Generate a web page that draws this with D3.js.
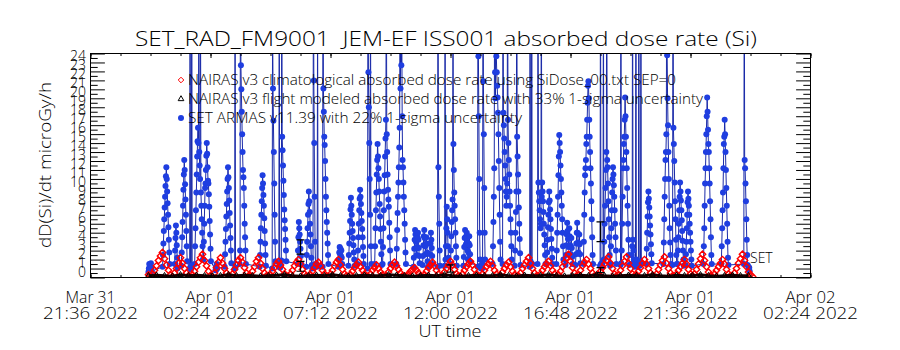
<!DOCTYPE html>
<html>
<head>
<meta charset="utf-8">
<script src="https://cdn.jsdelivr.net/npm/d3@7"></script>
<style>
  body { margin: 0; background: #fff; }
  text { font-family: "Open Sans", "DejaVu Sans", sans-serif; font-weight: 300; fill: #000; }
</style>
</head>
<body>
<svg id="chart" width="900" height="350"></svg>
<script>
// ---------------- data ----------------
// minutes are counted from 2022-04-01 00:00 UT
const dayStart = Date.UTC(2022, 3, 1, 0, 0);

const tickTimes = ['2022-03-31T21:36:00Z', '2022-04-01T02:24:00Z', '2022-04-01T07:12:00Z',
  '2022-04-01T12:00:00Z', '2022-04-01T16:48:00Z', '2022-04-01T21:36:00Z', '2022-04-02T02:24:00Z'];
const tickDays = ['Mar 31', 'Apr 01', 'Apr 01', 'Apr 01', 'Apr 01', 'Apr 01', 'Apr 02'];
const tickClock = ['21:36 2022', '02:24 2022', '07:12 2022', '12:00 2022', '16:48 2022', '21:36 2022', '02:24 2022'];
const yTicks = [0, 1, 2, 3, 4, 5, 6, 7, 8, 9, 10, 11, 12, 13, 14, 15, 16, 17, 18, 19, 20, 21, 22, 23, 24];

// NAIRAS climatological dose rate, one value every 4.8 min from -4.8 min
const climStart = -4.8, climStep = 4.8;
const nairasClim = [
  0.3,0.2,0.4,0.8,1.3,1.9,2.4,2.8,
  2.1,1.4,0.8,0.3,0.1,0.5,1.0,1.6,2.2,
  1.6,1.0,0.5,0.2,0.1,0.3,0.7,1.2,1.7,2.2,2.6,
  1.9,1.3,0.7,0.2,0.1,0.5,1.1,1.7,2.2,
  1.6,1.0,0.5,0.2,0.1,0.4,0.9,1.4,1.9,2.2,
  1.7,1.1,0.5,0.2,0.2,0.7,1.2,1.8,2.2,
  1.6,1.0,0.5,0.2,0.1,0.3,0.7,1.1,1.5,1.8,
  1.4,0.9,0.4,0.2,0.1,0.4,0.8,1.3,1.7,2.0,
  1.5,0.9,0.4,0.2,0.1,0.3,0.7,1.1,1.5,1.7,
  1.3,0.8,0.4,0.2,0.1,0.4,0.8,1.3,1.7,2.0,
  1.4,0.9,0.4,0.2,0.1,0.3,0.7,1.1,1.4,1.7,
  1.2,0.8,0.4,0.2,0.1,0.4,0.8,1.1,1.4,
  1.0,0.6,0.3,0.1,0.2,0.6,1.0,1.4,1.7,
  1.3,0.9,0.5,0.2,0.1,0.2,0.4,0.7,0.9,1.1,
  0.8,0.5,0.2,0.1,0.3,0.7,1.1,1.4,1.7,
  1.3,0.8,0.4,0.1,0.2,0.6,1.0,1.4,1.8,
  1.4,0.9,0.4,0.2,0.1,0.4,0.8,1.2,1.5,1.8,
  1.4,0.9,0.4,0.2,0.1,0.4,0.8,1.2,1.5,1.8,
  1.3,0.8,0.4,0.1,0.2,0.6,1.0,1.4,1.7,
  1.2,0.7,0.3,0.1,0.2,0.5,1.0,1.4,1.8,2.2,
  1.6,1.0,0.5,0.2,0.1,0.4,0.8,1.2,1.5,1.8,
  1.3,0.8,0.4,0.1,0.3,0.7,1.2,1.7,2.2,2.6,
  1.8,1.1,0.5,0.2,0.3,0.8,1.3,1.7,2.0,
  1.5,1.0,0.5,0.2,0.1,0.3,0.7,1.1,1.5,1.9,2.3,
  1.6,1.0,0.4,0.2,0.3,0.8,1.3,1.8,2.3,
  1.6,1.0,0.4,0.2,0.3,0.7,1.1,1.6,2.0,
  1.5,1.0,0.5,0.2,0.1,0.4,0.9,1.4,1.9,2.3,
  1.6,1.0,0.5,0.2,0.1,0.4,0.8,1.2,1.6,2.0,
  1.5,0.9,0.4,0.2,0.4,0.9,1.5,2.1,2.6,
  1.9,1.2,0.6,0.2,0.1,0.4,0.8,1.2,1.6,2.0,
  1.5,0.9,0.4,0.2,0.1,0.5,1.0,1.6,2.1,2.6,
  1.9,1.2,0.6,0.3,0.1
];

// NAIRAS flight modeled dose rate, one value every 19.2 min from -4.8 min
const flightStart = -4.8, flightStep = 19.2;
const nairasFlight = [
  0.2,0.25,0.2,0.15,0.3,0.2,0.25,0.2,0.15,0.2,0.3,0.2,0.25,0.2,0.15,0.2,0.25,0.3,0.2,
  0.15,0.2,0.25,0.2,0.3,0.2,0.15,0.2,0.25,0.2,0.2,0.3,0.25,0.2,0.15,0.2,0.25,0.2,0.3,
  0.2,0.15,0.2,0.25,0.2,0.2,0.3,0.2,0.15,0.25,0.2,0.2,0.3,0.2,0.15,0.2,0.25,0.2,0.3,
  0.2,0.15,0.2,0.25,0.2,0.2,0.3,0.2,0.15,0.25,0.2,0.2,0.3,0.2,0.15,0.2,0.25,0.2,0.2
];
// flight modeled 33% uncertainty bars
const flightErrMin = [360, 360, 720, 1080, 1080];
const flightErrLo = [2.6, 0.7, 0.6, 4.0, 0.55];
const flightErrHi = [4.2, 1.8, 1.4, 6.2, 1.1];

// SET ARMAS passes: [start minute, values at 1 min cadence]
const armasPasses = [
  [-5, [0.6,1.0,1.5,0.9,1.3,0.8,1.6,1.1,0.7]],
  [29, [1.2,2.5,3.8,5.2,6.5,7.8,9.0,10.2,11.3,12.3,11.0,9.6,8.3,7.0,5.6,4.2,2.8,1.5]],
  [58, [1.5,3.0,4.4,5.8,5.0,3.6,2.2,1.0]],
  [74, [1.3,2.8,4.5,6.2,8.0,9.8,11.5,13.1,12.0,10.4,8.7,7.0,5.2,3.5,1.8]],
  [94, [1.0,35,1.2,0.9,1.1,38,1.4]],
  [106, [1.5,3.5,5.5,7.5,9.5,11.5,13.5,15.2,16.7,15.0,30,14.0,12.5,11.0,33,9.5,8.0,6.5,5.0,3.5,2.0]],
  [127, [2.0,4.0,6.0,8.0,10.0,10.5,12.0,13.6,15.0,13.8,12.3,10.8,10.5,9.3,7.9,6.3,4.8,3.2,1.8]],
  [156, [0.8,1.2,0.9,1.5,1.0]],
  [178, [1.2,2.6,4.0,5.4,6.8,8.2,9.6,11.0,12.3,11.2,10.0,8.6,7.2,5.8,4.4,3.0,1.6]],
  [202, [1.0,33,1.1]],
  [214, [1.5,3.0,45,23.7,21.0,18.5,16.0,14.0,12.0,11.2,10.0,8.0,6.0,4.5,3.0,1.5]],
  [262, [1.2,2.5,4.0,5.5,7.0,8.5,10.0,11.4,10.5,9.2,8.0,6.6,5.2,3.8,2.5,1.3]],
  [292, [1.0,30,21.1,17.5,14.0,10.5,7.0,4.0,1.8]],
  [308, [1.2,34,1.4,1.1,1.6,1.3,1.9,36,15.7,14.2,12.5,10.8,9.2,7.6,6.4,5.4,4.2,3.0,1.8]],
  [353, [1.5,3.0,4.5,6.2,5.5,4.8,4.0,3.2,2.4,1.5]],
  [374, [1.2,2.5,4.0,5.5,7.0,8.2,9.6,8.5,7.3,6.0,4.8,3.5,2.2,1.4,1.0,1.3,1.1,40,22.0,15.0,9.0,4.0,1.5]],
  [400, [1.2,32,1.3]],
  [413, [1.2,38,21.1,18.5,15.7,14.8,13.0,11.0,9.0,7.5,6.2,5.0,3.8,2.5,1.5]],
  [451, [1.2,2.0,2.8,3.4,2.6,3.2,2.4,3.0,2.2,1.5]],
  [475, [1.3,2.5,3.8,5.0,6.3,7.6,8.9,8.0,7.0,6.0,5.2,4.4,3.6,2.8,2.0,1.3]],
  [497, [1.5,3.0,4.5,6.0,7.5,8.8,9.8,9.0,8.2,7.2,6.3,5.4,4.5,3.4,2.4,1.5]],
  [521, [1.0,40,22.9,19.0,15.0,11.0,7.0,38,3.5,1.5]],
  [538, [1.5,3.5,5.5,7.5,9.5,11.5,13.1,14.9,13.5,12.2,11.0,9.6,8.2,6.8,5.4,4.0,2.6,1.4]],
  [557, [1.5,3.4,5.5,7.5,9.6,11.4,13.5,15.5,17.6,40,16.0,14.0,11.5,9.8,8.7,7.9,6.1,4.5,3.0,1.5]],
  [590, [1.5,3.2,5.3,7.2,9.0,10.6,12.3,14.5,16.7,38,21.1,40,23.7,30,18.0,13.1,12.3,10.6,9.0,7.5,6.0,4.2,2.8,1.5]],
  [631, [1.2,2.2,3.2,4.2,5.3,4.8,4.0,3.2,2.5,3.4,4.5,5.0,4.2,3.3,2.4,1.6]],
  [653, [1.4,2.4,3.6,4.6,5.3,4.4,3.5,2.6,3.6,4.5,3.8,2.8,1.8,1.2]],
  [670, [1.5,2.6,3.8,5.0,4.2,3.3,2.4,1.5]],
  [689, [1.2,40,12.3,9.0,6.0,3.0,1.3]],
  [706, [1.3,36,2.0,3.5,5.5,7.9,6.5,5.0,3.5,2.2]],
  [720, [1.5,3.0,4.6,6.2,7.5,8.7,30,14.9,12.0,9.5,8.0,6.5,5.0,3.5,2.2,1.3]],
  [751, [1.3,2.3,3.4,4.4,5.3,4.5,3.7,4.6,5.0,4.0,3.0,2.0,2.8,3.8,4.6,3.6,2.6,1.7]],
  [785, [1.2,40,24.7,18.0,11.0,5.0,2.0,1.3,1.0,1.4,1.2,1.0,1.5,38,21.9,16.0,10.0,5.0,2.0]],
  [821, [1.5,3.5,6.2,9.0,12.2,40,22.9,20.0,40,24.7,22.9,21.4,20.1,18.4,16.0,13.0,10.0,7.0,4.0,2.0]],
  [845, [1.5,40,18.4,17.0,15.5,14.0,12.5,11.0,9.6,8.0,9.0,10.5,40,17.6,15.0,13.1,11.5,9.6,8.0,6.5,5.0,3.5,2.0]],
  [874, [1.3,3.0,5.0,7.3,9.6,40,15.7,13.5,11.5,9.6,7.8,6.0,4.3,2.7,1.4]],
  [910, [1.2,40,1.8,1.3,1.6,36,1.5]],
  [929, [1.5,38,10.6,9.5,8.5,7.5,6.5,5.5,6.0,40,9.0,10.6,9.6,8.5,7.3,6.0,4.8,3.6,2.5,1.5]],
  [951, [1.5,2.8,4.2,5.6,7.0,8.4,9.6,8.6,7.6,6.5,5.4,4.3,3.2,2.2,1.5]],
  [974, [1.5,3.0,5.0,7.0,9.0,11.4,13.5,15.9,15.0,14.0,12.5,11.0,9.5,8.0,6.5,5.0,3.5,2.0]],
  [996, [1.4,2.5,3.6,4.8,6.1,5.2,4.3,3.4,4.5,5.5,4.6,3.6,2.6,3.5,4.4,3.3,2.3,1.5]],
  [1020, [1.4,2.6,3.8,5.0,6.1,5.0,3.9,2.8,3.8,4.8,3.7,2.6,1.6]],
  [1039, [1.5,4.0,7.0,9.5,11.4,12.2,13.1,14.9,15.7,17.6,19.5,21.4,21.9,20.0,17.6,15.7,14.0,12.2,10.5,8.5,6.5,4.5,2.5,1.5]],
  [1079, [1.3,40,1.5,1.2,1.6,1.4,1.2,1.8,38,2.0,4.0,6.0,8.0,10.0,12.0,14.0,40,13.1,12.3,10.5,8.5,6.5,4.5,2.5,1.3]],
  [1104, [1.5,3.5,5.5,7.5,9.5,11.0,12.3,11.5,10.3,9.0,7.5,6.0,4.5,3.0,1.5]],
  [1128, [1.4,40,1.6,3.0,6.0,9.0,12.2,13.1,14.9,15.7,17.6,20.1,18.0,15.7,14.0,12.2,10.0,8.0,6.0,4.2,2.5,1.4]],
  [1154, [1.5,2.5,3.5,40,4.2,3.0,2.0,1.5,1.2,1.6,1.4,38,2.0,1.4,1.8,1.2,1.5,1.3,40,1.6,1.3,1.8,1.5,36,1.6]],
  [1190, [1.5,3.2,5.0,6.8,8.4,9.6,8.8,7.8,6.8,5.8,4.8,3.7,2.6,1.6]],
  [1231, [1.5,3.9,6.5,9.0,11.0,13.1,14.0,16.0,40,24.8,20.0,17.0,14.0,11.0,8.0,5.5,3.9,2.5,1.5]],
  [1253, [1.4,40,16.7,14.9,13.0,10.6,8.5,6.5,4.2,2.5,1.5]],
  [1265, [1.5,3.0,4.5,6.0,7.5,9.0,10.6,9.6,8.6,7.5,6.4,5.2,4.1,3.0,2.0,1.3]],
  [1284, [1.4,2.6,4.0,5.5,7.0,8.4,9.6,8.8,8.0,7.0,6.0,5.0,4.0,3.0,2.0,1.3]],
  [1327, [1.5,3.5,5.5,8.0,10.5,12.2,14.0,16.0,18.0,20.1,18.5,16.5,14.9,14.0,12.2,10.5,8.5,6.5,4.5,2.5,1.5]],
  [1370, [1.5,3.5,5.5,7.5,9.5,12.2,14.9,15.7,17.6,16.0,14.0,12.0,10.0,8.0,6.0,4.0,2.2,1.4]],
  [1424, [1.5,40,13.1,12.2,10.5,8.5,6.5,4.2,2.5,1.4]],
  [1435, [1.2,0.8,1.1,0.7]]
];

// ---------------- layout ----------------
const width = 900;
const height = 350;
const plot = { left: 90.5, right: 810.5, top: 53.5, bottom: 277.5 };

const svg = d3.select('svg#chart').attr('width', width).attr('height', height);

const atMin = m => new Date(dayStart + m * 60000);
const xScale = d3.scaleUtc()
  .domain([new Date(tickTimes[0]), new Date(tickTimes[tickTimes.length - 1])])
  .range([plot.left, plot.right]);
const yScale = d3.scaleLinear().domain([0, 25]).range([plot.bottom, plot.top]);

// flatten data
const armas = [];
armasPasses.forEach(([t0, vals]) => vals.forEach((v, i) => armas.push({ t: t0 + i, v: v })));
const clim = nairasClim.map((v, i) => ({ t: climStart + i * climStep, v: v }));
const flight = nairasFlight.map((v, i) => ({ t: flightStart + i * flightStep, v: v }));

svg.append('clipPath').attr('id', 'plot-clip').append('rect')
  .attr('x', plot.left).attr('y', plot.top)
  .attr('width', plot.right - plot.left).attr('height', plot.bottom - plot.top);

const dataG = svg.append('g').attr('clip-path', 'url(#plot-clip)');

// ARMAS line + dots
const line = d3.line().x(d => xScale(atMin(d.t))).y(d => yScale(d.v));
dataG.append('path').datum(armas)
  .attr('d', line).attr('fill', 'none').attr('stroke', '#1a2aa8').attr('stroke-width', 1);
dataG.selectAll('circle.armas').data(armas.filter(d => d.v < 26)).enter().append('circle')
  .attr('class', 'armas')
  .attr('cx', d => xScale(atMin(d.t))).attr('cy', d => yScale(d.v))
  .attr('r', 3).attr('fill', '#1f3ee0');

// climatological: open red diamonds
const diamond = 'M0,-3.2L3.2,0L0,3.2L-3.2,0Z';
dataG.selectAll('path.clim').data(clim).enter().append('path')
  .attr('class', 'clim')
  .attr('d', diamond)
  .attr('transform', d => `translate(${xScale(atMin(d.t))},${yScale(d.v)})`)
  .attr('fill', 'none').attr('stroke', '#ff0000').attr('stroke-width', 1.4);

// flight modeled: black triangles
const tri = d3.symbol(d3.symbolTriangle, 14);
dataG.append('path').datum(flight)
  .attr('d', line).attr('fill', 'none').attr('stroke', '#1a0000').attr('stroke-width', 3);
dataG.selectAll('path.flight').data(flight).enter().append('path')
  .attr('class', 'flight')
  .attr('d', tri)
  .attr('transform', d => `translate(${xScale(atMin(d.t))},${yScale(d.v)})`)
  .attr('fill', 'none').attr('stroke', '#000').attr('stroke-width', 1);

// uncertainty bars
const errG = dataG.append('g').attr('stroke', '#000').attr('stroke-width', 1.2);
flightErrMin.forEach((m, i) => {
  const cx = xScale(atMin(m));
  const y0 = yScale(flightErrLo[i]), y1 = yScale(flightErrHi[i]);
  errG.append('line').attr('x1', cx).attr('x2', cx).attr('y1', y0).attr('y2', y1);
  errG.append('line').attr('x1', cx - 4).attr('x2', cx + 4).attr('y1', y0).attr('y2', y0);
  errG.append('line').attr('x1', cx - 4).attr('x2', cx + 4).attr('y1', y1).attr('y2', y1);
});

// ---------------- axes ----------------
const majorTicks = tickTimes.map(s => new Date(s));
const minorTicks = d3.range(0, 1729, 72).map(m => new Date(majorTicks[0].getTime() + m * 60000));

function xTicks(g, vals, size, top) {
  g.call((top ? d3.axisTop : d3.axisBottom)(xScale).tickValues(vals).tickSize(-size).tickFormat(''));
  g.select('.domain').remove();
  g.selectAll('line').attr('stroke', '#000');
}
svg.append('g').attr('transform', `translate(0,${plot.bottom})`).call(xTicks, minorTicks, 2.5, false);
svg.append('g').attr('transform', `translate(0,${plot.bottom})`).call(xTicks, majorTicks, 4.5, false);
svg.append('g').attr('transform', `translate(0,${plot.top})`).call(xTicks, minorTicks, 2.5, true);
svg.append('g').attr('transform', `translate(0,${plot.top})`).call(xTicks, majorTicks, 4.5, true);

const yMinor = d3.range(0.5, 25, 1);
function yTicksG(g, vals, size, right) {
  g.call((right ? d3.axisRight : d3.axisLeft)(yScale).tickValues(vals).tickSize(-size).tickFormat(''));
  g.select('.domain').remove();
  g.selectAll('line').attr('stroke', '#000');
}
svg.append('g').attr('transform', `translate(${plot.left},0)`).call(yTicksG, yTicks.concat([25]), 14.4, false);
svg.append('g').attr('transform', `translate(${plot.left},0)`).call(yTicksG, yMinor, 7.2, false);
svg.append('g').attr('transform', `translate(${plot.right},0)`).call(yTicksG, yTicks.concat([25]), 14.4, true);
svg.append('g').attr('transform', `translate(${plot.right},0)`).call(yTicksG, yMinor, 7.2, true);

// frame
svg.append('rect')
  .attr('x', plot.left).attr('y', plot.top)
  .attr('width', plot.right - plot.left).attr('height', plot.bottom - plot.top)
  .attr('fill', 'none').attr('stroke', '#000').attr('stroke-width', 1);

// y tick labels (they overlap, as in the original)
svg.append('g').selectAll('text').data(yTicks).enter().append('text')
  .attr('x', 86).attr('y', d => yScale(d) - 1)
  .attr('text-anchor', 'end').style('font-size', '14px')
  .text(d => d);

// x tick labels, two lines each
const xLab = svg.append('g');
majorTicks.forEach((t, i) => {
  xLab.append('text').attr('x', xScale(t)).attr('y', 303)
    .attr('text-anchor', 'middle').style('font-size', '16px')
    .attr('textLength', 50).attr('lengthAdjust', 'spacingAndGlyphs').text(tickDays[i]);
  xLab.append('text').attr('x', xScale(t)).attr('y', 319)
    .attr('text-anchor', 'middle').style('font-size', '16px')
    .attr('textLength', 95).attr('lengthAdjust', 'spacingAndGlyphs').text(tickClock[i]);
});

svg.append('text').attr('x', 450).attr('y', 337).attr('text-anchor', 'middle')
  .style('font-size', '16px').attr('textLength', 63).attr('lengthAdjust', 'spacingAndGlyphs')
  .text('UT time');

svg.append('text')
  .attr('transform', 'translate(51,165) rotate(-90)')
  .attr('text-anchor', 'middle').style('font-size', '17px')
  .attr('textLength', 166).attr('lengthAdjust', 'spacingAndGlyphs')
  .text('dD(Si)/dt microGy/h');

svg.append('text').attr('x', 135).attr('y', 46)
  .style('font-size', '20px').style('white-space', 'pre')
  .attr('textLength', 622).attr('lengthAdjust', 'spacingAndGlyphs')
  .text('SET_RAD_FM9001  JEM-EF ISS001 absorbed dose rate (Si)');

// legend
const legend = svg.append('g');
const legendItems = [
  { y: 80, len: 488, label: 'NAIRAS v3 climatological absorbed dose rate using SiDose_00.txt SEP=0' },
  { y: 99, len: 515, label: 'NAIRAS v3 flight modeled absorbed dose rate with 33% 1-sigma uncertainty' },
  { y: 118, len: 334, label: 'SET ARMAS v11.39 with 22% 1-sigma uncertainty' }
];
legendItems.forEach(item => {
  legend.append('text').attr('x', 188).attr('y', item.y + 5)
    .style('font-size', '14px').attr('textLength', item.len).attr('lengthAdjust', 'spacingAndGlyphs')
    .text(item.label);
});
legend.append('path').attr('d', 'M0,-2.8L2.8,0L0,2.8L-2.8,0Z').attr('transform', 'translate(181,80)')
  .attr('fill', 'none').attr('stroke', '#ff0000').attr('stroke-width', 1);
legend.append('path').attr('d', tri).attr('transform', 'translate(181,99)')
  .attr('fill', 'none').attr('stroke', '#000').attr('stroke-width', 1);
legend.append('circle').attr('cx', 181).attr('cy', 118).attr('r', 3).attr('fill', '#1f3ee0');

svg.append('text').attr('x', 750).attr('y', 263).style('font-size', '14px').text('SET');
</script>
</body>
</html>
